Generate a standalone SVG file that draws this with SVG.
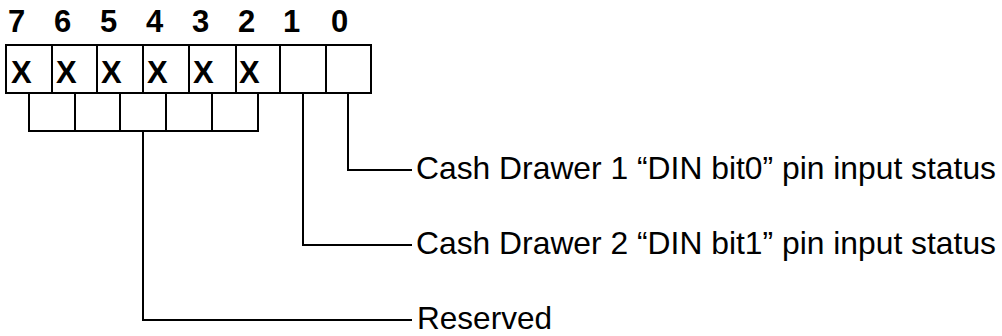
<svg xmlns="http://www.w3.org/2000/svg" width="1002" height="336" viewBox="0 0 1002 336">
<style>
.ln{fill:none;stroke:#000;stroke-width:2;stroke-linecap:square}
.bit{font-family:"Liberation Sans",Arial,sans-serif;font-weight:bold;font-size:31px;fill:#000}
.lbl{font-family:"Liberation Sans",Arial,sans-serif;font-size:30.5px;fill:#000}
</style>
<rect width="1002" height="336" fill="#fff"/>
<g id="bit-numbers">
<text class="bit" x="8" y="32">7</text>
<text class="bit" x="54" y="32">6</text>
<text class="bit" x="100" y="32">5</text>
<text class="bit" x="146" y="32">4</text>
<text class="bit" x="192" y="32">3</text>
<text class="bit" x="238" y="32">2</text>
<text class="bit" x="283" y="32">1</text>
<text class="bit" x="331" y="32">0</text>
</g>
<g id="register">
<rect class="ln" x="6" y="45" width="365" height="48"/>
<path class="ln" d="M52 45V93M97 45V93M143 45V93M189 45V93M236 45V93M280 45V93M326 45V93"/>
<text class="bit" x="11" y="83">X</text>
<text class="bit" x="56" y="83">X</text>
<text class="bit" x="101" y="83">X</text>
<text class="bit" x="147" y="83">X</text>
<text class="bit" x="193" y="83">X</text>
<text class="bit" x="239" y="83">X</text>
</g>
<g id="reserved-bracket">
<path class="ln" d="M29 93V131H258V93M75 93V131M120 93V131M166 93V131M212 93V131"/>
</g>
<g id="connectors">
<path class="ln" d="M348 93V170H411"/>
<path class="ln" d="M303 93V245H411"/>
<path class="ln" d="M143 131V320H411"/>
</g>
<g id="label-bit0">
<text class="lbl" x="416" y="179" textLength="580" lengthAdjust="spacingAndGlyphs">Cash Drawer 1 “DIN bit0” pin input status</text>
</g>
<g id="label-bit1">
<text class="lbl" x="416" y="254" textLength="580" lengthAdjust="spacingAndGlyphs">Cash Drawer 2 “DIN bit1” pin input status</text>
</g>
<g id="label-reserved">
<text class="lbl" x="417" y="329" textLength="135" lengthAdjust="spacingAndGlyphs">Reserved</text>
</g>
</svg>
